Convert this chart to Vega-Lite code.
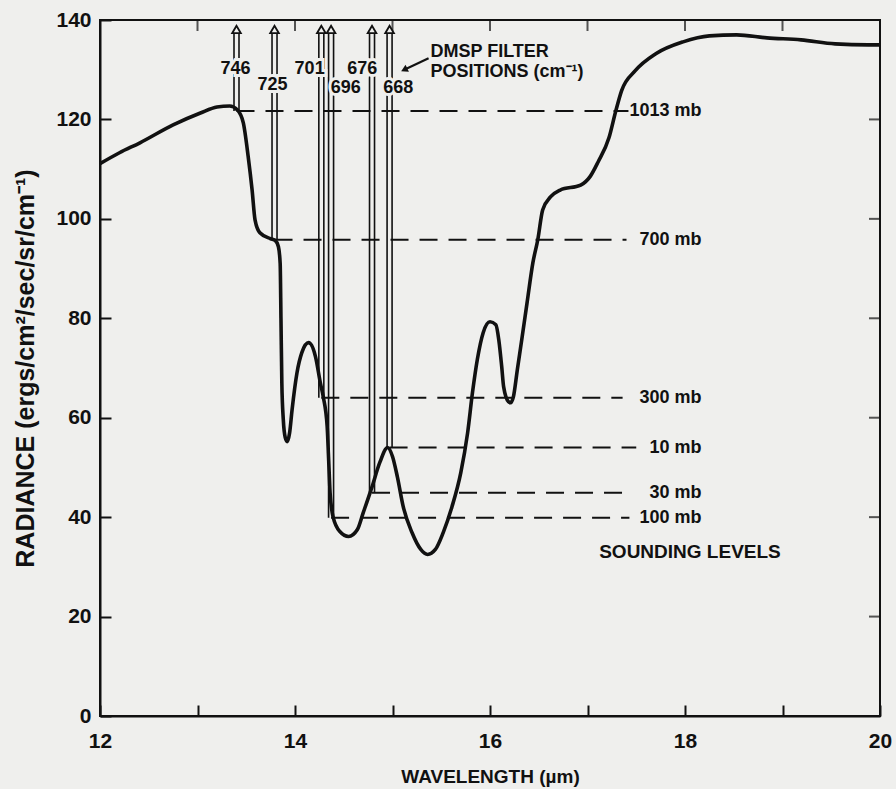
{
  "$schema": "https://vega.github.io/schema/vega-lite/v6.json",
  "width": 780,
  "height": 696,
  "autosize": {"type": "none"},
  "padding": {"left": 100, "top": 20, "right": 16, "bottom": 73},
  "background": "#efefed",
  "config": {
    "view": {"stroke": "#111", "strokeWidth": 2},
    "font": "Liberation Sans",
    "axis": {
      "domainColor": "#111",
      "domainWidth": 2,
      "tickColor": "#111",
      "tickWidth": 2,
      "tickSize": -11,
      "grid": false,
      "labelFlush": false,
      "labelColor": "#111",
      "labelFont": "Liberation Sans",
      "labelFontWeight": "bold",
      "labelFontSize": 21,
      "titleColor": "#111",
      "titleFont": "Liberation Sans",
      "titleFontWeight": "bold"
    }
  },
  "datasets": {
    "curve": [
      {"w": 12.00, "r": 111.1}, {"w": 12.20, "r": 113.3}, {"w": 12.41, "r": 115.3}, {"w": 12.75, "r": 118.9},
      {"w": 13.03, "r": 121.3}, {"w": 13.20, "r": 122.5}, {"w": 13.33, "r": 122.7}, {"w": 13.41, "r": 121.9},
      {"w": 13.47, "r": 119.3}, {"w": 13.52, "r": 112.5}, {"w": 13.56, "r": 105.8}, {"w": 13.59, "r": 99.8},
      {"w": 13.64, "r": 97.2}, {"w": 13.75, "r": 96.0}, {"w": 13.80, "r": 95.6}, {"w": 13.83, "r": 94.4},
      {"w": 13.848, "r": 91.0}, {"w": 13.856, "r": 80.0}, {"w": 13.865, "r": 67.0}, {"w": 13.88, "r": 59.6},
      {"w": 13.90, "r": 56.0}, {"w": 13.92, "r": 55.2}, {"w": 13.945, "r": 57.0}, {"w": 13.97, "r": 61.6},
      {"w": 14.02, "r": 69.0}, {"w": 14.07, "r": 73.1}, {"w": 14.14, "r": 75.1}, {"w": 14.21, "r": 72.3},
      {"w": 14.26, "r": 67.0}, {"w": 14.29, "r": 64.2}, {"w": 14.33, "r": 58.2}, {"w": 14.345, "r": 51.6},
      {"w": 14.36, "r": 44.9}, {"w": 14.39, "r": 40.1}, {"w": 14.46, "r": 37.1}, {"w": 14.55, "r": 36.1},
      {"w": 14.64, "r": 37.5}, {"w": 14.70, "r": 40.9}, {"w": 14.79, "r": 46.1}, {"w": 14.87, "r": 51.0},
      {"w": 14.95, "r": 54.0}, {"w": 15.00, "r": 52.2}, {"w": 15.05, "r": 48.1}, {"w": 15.11, "r": 42.1},
      {"w": 15.20, "r": 36.9}, {"w": 15.29, "r": 33.5}, {"w": 15.36, "r": 32.5}, {"w": 15.44, "r": 33.5},
      {"w": 15.52, "r": 36.9}, {"w": 15.61, "r": 42.1}, {"w": 15.70, "r": 48.9}, {"w": 15.77, "r": 56.9},
      {"w": 15.82, "r": 65.0}, {"w": 15.87, "r": 71.7}, {"w": 15.93, "r": 77.1}, {"w": 16.00, "r": 79.3},
      {"w": 16.06, "r": 78.7}, {"w": 16.09, "r": 75.7}, {"w": 16.12, "r": 70.3}, {"w": 16.14, "r": 66.2},
      {"w": 16.19, "r": 63.2}, {"w": 16.21, "r": 63.0}, {"w": 16.24, "r": 64.2}, {"w": 16.28, "r": 69.6},
      {"w": 16.33, "r": 76.3}, {"w": 16.38, "r": 83.1}, {"w": 16.44, "r": 91.2}, {"w": 16.49, "r": 95.8},
      {"w": 16.54, "r": 101.8}, {"w": 16.62, "r": 104.4}, {"w": 16.72, "r": 105.8}, {"w": 16.93, "r": 106.8},
      {"w": 17.03, "r": 108.6}, {"w": 17.11, "r": 111.5}, {"w": 17.22, "r": 116.3}, {"w": 17.29, "r": 121.7},
      {"w": 17.35, "r": 125.8}, {"w": 17.49, "r": 129.8}, {"w": 17.70, "r": 133.2}, {"w": 17.98, "r": 135.6},
      {"w": 18.25, "r": 136.8}, {"w": 18.53, "r": 137.0}, {"w": 18.84, "r": 136.4}, {"w": 19.19, "r": 136.0},
      {"w": 19.54, "r": 135.2}, {"w": 19.88, "r": 135.0}, {"w": 20.00, "r": 135.0}
    ],
    "filters": [
      {"wn": "746", "wl": 13.40, "top": 137.5, "lev": 121.7, "lx": 13.39, "ly": 130.1},
      {"wn": "725", "wl": 13.79, "top": 137.5, "lev": 95.8, "lx": 13.77, "ly": 126.9},
      {"wn": "701", "wl": 14.27, "top": 137.5, "lev": 64.0, "lx": 14.15, "ly": 130.1},
      {"wn": "696", "wl": 14.37, "top": 137.5, "lev": 39.9, "lx": 14.52, "ly": 126.3},
      {"wn": "676", "wl": 14.79, "top": 137.5, "lev": 44.9, "lx": 14.69, "ly": 130.1},
      {"wn": "668", "wl": 14.97, "top": 137.5, "lev": 54.0, "lx": 15.06, "ly": 126.3}
    ],
    "levels": [
      {"level": "1013 mb", "y": 121.7, "x0": 13.40, "x1": 17.42, "xr": 18.17},
      {"level": "700 mb", "y": 95.8, "x0": 13.79, "x1": 17.40, "xr": 18.17},
      {"level": "300 mb", "y": 64.0, "x0": 14.27, "x1": 17.36, "xr": 18.17},
      {"level": "10 mb", "y": 54.0, "x0": 14.97, "x1": 17.50, "xr": 18.17},
      {"level": "30 mb", "y": 44.9, "x0": 14.79, "x1": 17.46, "xr": 18.17},
      {"level": "100 mb", "y": 39.9, "x0": 14.37, "x1": 17.43, "xr": 18.17}
    ],
    "notes": [
      {"t": "DMSP FILTER", "x": 15.39, "y": 133.5, "s": 18},
      {"t": "POSITIONS (cm⁻¹)", "x": 15.39, "y": 129.6, "s": 18},
      {"t": "SOUNDING LEVELS", "x": 17.12, "y": 32.9, "s": 19}
    ],
    "pointer": [
      {"px": 15.37, "py": 132.3, "qx": 15.12, "qy": 130.0}
    ],
    "xt": [{"v": 12, "y": 140}, {"v": 13, "y": 140}, {"v": 14, "y": 140}, {"v": 15, "y": 140}, {"v": 16, "y": 140}, {"v": 17, "y": 140}, {"v": 18, "y": 140}, {"v": 19, "y": 140}, {"v": 20, "y": 140}],
    "yt": [{"v": 0, "x": 20}, {"v": 20, "x": 20}, {"v": 40, "x": 20}, {"v": 60, "x": 20}, {"v": 80, "x": 20}, {"v": 100, "x": 20}, {"v": 120, "x": 20}, {"v": 140, "x": 20}]
  },
  "layer": [
    {
      "data": {"name": "curve"},
      "mark": {"type": "line", "interpolate": "monotone", "strokeWidth": 3.6, "color": "#111"},
      "encoding": {
        "x": {"field": "w", "type": "quantitative", "scale": {"domain": [12, 20], "nice": false, "zero": false},
              "axis": {"values": [12, 13, 14, 15, 16, 17, 18, 19, 20], "format": "d",
                       "labelExpr": "datum.value % 2 == 0 ? datum.label : ''", "labelPadding": 25,
                       "title": "WAVELENGTH (µm)", "titleFontSize": 19, "titlePadding": 16}},
        "y": {"field": "r", "type": "quantitative", "scale": {"domain": [0, 140], "nice": false},
              "axis": {"values": [0, 20, 40, 60, 80, 100, 120, 140], "labelPadding": 20,
                       "title": "RADIANCE (ergs/cm²/sec/sr/cm⁻¹)", "titleFontSize": 25, "titlePadding": 17}}
      }
    },
    {
      "data": {"name": "xt"},
      "mark": {"type": "tick", "orient": "vertical", "size": 11, "thickness": 2, "color": "#111", "yOffset": 5.5},
      "encoding": {
        "x": {"field": "v", "type": "quantitative"},
        "y": {"field": "y", "type": "quantitative"}
      }
    },
    {
      "data": {"name": "yt"},
      "mark": {"type": "tick", "orient": "horizontal", "size": 11, "thickness": 2, "color": "#111", "xOffset": -5.5},
      "encoding": {
        "x": {"field": "x", "type": "quantitative"},
        "y": {"field": "v", "type": "quantitative"}
      }
    },
    {
      "data": {"name": "levels"},
      "mark": {"type": "rule", "strokeDash": [18, 11], "strokeWidth": 2, "color": "#111"},
      "encoding": {
        "x": {"field": "x0", "type": "quantitative"},
        "x2": {"field": "x1"},
        "y": {"field": "y", "type": "quantitative"}
      }
    },
    {
      "data": {"name": "levels"},
      "mark": {"type": "text", "align": "right", "baseline": "middle", "fontSize": 18, "fontWeight": "bold", "color": "#111"},
      "encoding": {
        "x": {"field": "xr", "type": "quantitative"},
        "y": {"field": "y", "type": "quantitative"},
        "text": {"field": "level"}
      }
    },
    {
      "data": {"name": "filters"},
      "mark": {"type": "rule", "strokeWidth": 1.6, "color": "#111", "xOffset": -2.5},
      "encoding": {
        "x": {"field": "wl", "type": "quantitative"},
        "y": {"field": "top", "type": "quantitative"},
        "y2": {"field": "lev"}
      }
    },
    {
      "data": {"name": "filters"},
      "mark": {"type": "rule", "strokeWidth": 1.6, "color": "#111", "xOffset": 2.5},
      "encoding": {
        "x": {"field": "wl", "type": "quantitative"},
        "y": {"field": "top", "type": "quantitative"},
        "y2": {"field": "lev"}
      }
    },
    {
      "data": {"name": "filters"},
      "mark": {"type": "point", "shape": "triangle-up", "size": 75, "filled": true, "fill": "#efefed", "stroke": "#111", "strokeWidth": 1.8, "opacity": 1, "yOffset": -3},
      "encoding": {
        "x": {"field": "wl", "type": "quantitative"},
        "y": {"field": "top", "type": "quantitative"}
      }
    },
    {
      "data": {"name": "filters"},
      "mark": {"type": "text", "align": "center", "baseline": "middle", "fontSize": 18, "fontWeight": "bold", "stroke": "#efefed", "strokeWidth": 6, "fill": "#efefed"},
      "encoding": {
        "x": {"field": "lx", "type": "quantitative"},
        "y": {"field": "ly", "type": "quantitative"},
        "text": {"field": "wn"}
      }
    },
    {
      "data": {"name": "filters"},
      "mark": {"type": "text", "align": "center", "baseline": "middle", "fontSize": 18, "fontWeight": "bold", "color": "#111"},
      "encoding": {
        "x": {"field": "lx", "type": "quantitative"},
        "y": {"field": "ly", "type": "quantitative"},
        "text": {"field": "wn"}
      }
    },
    {
      "data": {"name": "notes"},
      "mark": {"type": "text", "align": "left", "baseline": "middle", "fontWeight": "bold", "color": "#111"},
      "encoding": {
        "x": {"field": "x", "type": "quantitative"},
        "y": {"field": "y", "type": "quantitative"},
        "text": {"field": "t"},
        "size": {"field": "s", "type": "quantitative", "scale": null}
      }
    },
    {
      "data": {"name": "pointer"},
      "mark": {"type": "rule", "strokeWidth": 2.2, "color": "#111"},
      "encoding": {
        "x": {"field": "px", "type": "quantitative"},
        "y": {"field": "py", "type": "quantitative"},
        "x2": {"field": "qx"},
        "y2": {"field": "qy"}
      }
    },
    {
      "data": {"name": "pointer"},
      "mark": {"type": "point", "shape": "triangle-up", "size": 60, "filled": true, "color": "#111", "opacity": 1, "angle": 244},
      "encoding": {
        "x": {"field": "qx", "type": "quantitative"},
        "y": {"field": "qy", "type": "quantitative"}
      }
    }
  ]
}
